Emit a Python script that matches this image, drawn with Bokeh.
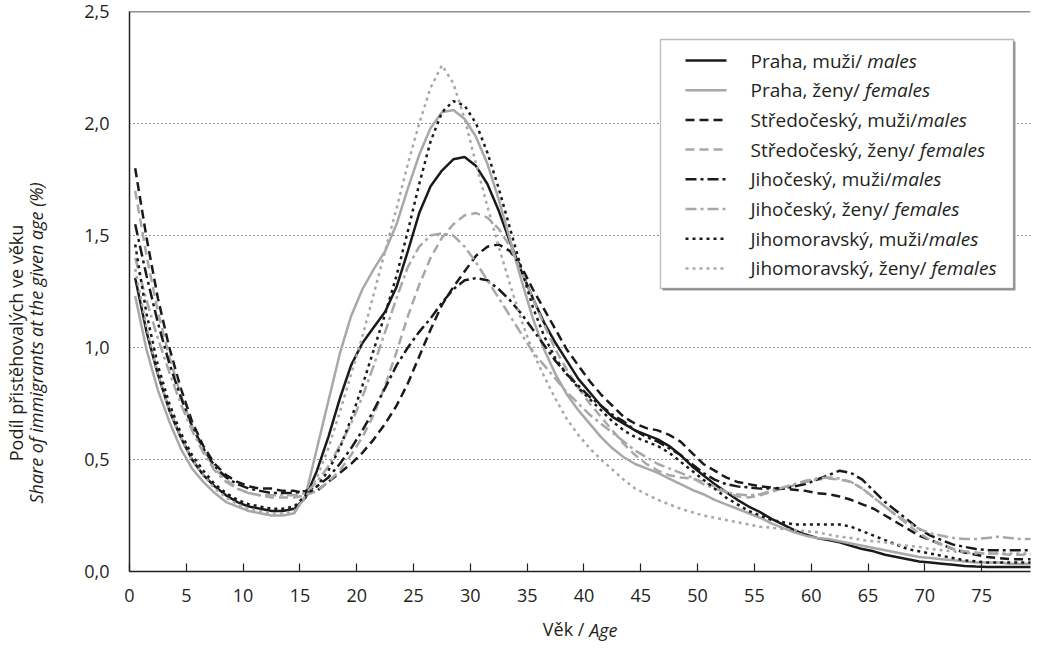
import os
import glob
import subprocess

from bokeh.plotting import figure
from bokeh.models import (Range1d, FixedTicker, CustomJSTickFormatter, Label,
                          BoxAnnotation, Arrow, Span, LinearAxis)
from bokeh.embed import file_html
from bokeh.resources import INLINE

# ---------------- data (share of immigrants at given age, %) ----------------
ages = list(range(80))

praha_muzi = [
    1.31, 1.07, 0.88, 0.72, 0.60, 0.50, 0.43, 0.38, 0.34, 0.31, 0.29, 0.28, 0.27, 0.27, 0.28, 0.33,
    0.45, 0.60, 0.77, 0.92, 1.02, 1.09, 1.16, 1.27, 1.43, 1.60, 1.72, 1.79, 1.84, 1.85, 1.81, 1.73,
    1.61, 1.47, 1.34, 1.22, 1.11, 1.02, 0.94, 0.86, 0.80, 0.74, 0.69, 0.66, 0.63, 0.61, 0.59, 0.56,
    0.52, 0.47, 0.43, 0.39, 0.355, 0.32, 0.29, 0.265, 0.235, 0.21, 0.185, 0.165, 0.15, 0.14, 0.13, 0.115,
    0.10, 0.09, 0.075, 0.065, 0.055, 0.045, 0.04, 0.035, 0.03, 0.025, 0.022, 0.02, 0.02, 0.02, 0.02, 0.02,
]
praha_zeny = [
    1.23, 0.99, 0.81, 0.67, 0.55, 0.46, 0.40, 0.35, 0.31, 0.29, 0.27, 0.26, 0.25, 0.25, 0.26, 0.34,
    0.55, 0.76, 0.97, 1.14, 1.26, 1.35, 1.43, 1.55, 1.71, 1.86, 1.98, 2.05, 2.06, 2.02, 1.94, 1.82,
    1.66, 1.48, 1.30, 1.13, 0.99, 0.88, 0.79, 0.72, 0.66, 0.60, 0.55, 0.51, 0.48, 0.46, 0.44, 0.415,
    0.39, 0.365, 0.345, 0.32, 0.30, 0.28, 0.26, 0.24, 0.215, 0.195, 0.175, 0.16, 0.15, 0.145, 0.135, 0.125,
    0.115, 0.105, 0.095, 0.085, 0.075, 0.065, 0.06, 0.055, 0.05, 0.045, 0.04, 0.04, 0.04, 0.035, 0.035, 0.035,
]
stredocesky_muzi = [
    1.80, 1.49, 1.22, 1.00, 0.82, 0.67, 0.56, 0.48, 0.43, 0.40, 0.38, 0.37, 0.37, 0.36, 0.36, 0.35,
    0.36, 0.40, 0.44, 0.48, 0.53, 0.59, 0.66, 0.74, 0.84, 0.96, 1.08, 1.19, 1.27, 1.34, 1.41, 1.45,
    1.46, 1.43, 1.36, 1.26, 1.17, 1.08, 0.99, 0.92, 0.85, 0.79, 0.74, 0.69, 0.66, 0.64, 0.63, 0.61,
    0.58, 0.53, 0.48, 0.45, 0.42, 0.40, 0.39, 0.38, 0.375, 0.37, 0.365, 0.36, 0.35, 0.345, 0.335, 0.32,
    0.30, 0.28, 0.25, 0.22, 0.19, 0.16, 0.14, 0.12, 0.10, 0.085, 0.075, 0.065, 0.06, 0.055, 0.055, 0.055,
]
stredocesky_zeny = [
    1.70, 1.41, 1.16, 0.96, 0.79, 0.65, 0.54, 0.46, 0.41, 0.37, 0.35, 0.34, 0.33, 0.33, 0.33, 0.34,
    0.36, 0.40, 0.45, 0.52, 0.60, 0.70, 0.83, 0.98, 1.14, 1.28, 1.40, 1.49, 1.55, 1.59, 1.60, 1.58,
    1.53, 1.45, 1.34, 1.22, 1.10, 0.99, 0.90, 0.82, 0.75, 0.69, 0.63, 0.57, 0.52, 0.48, 0.45, 0.43,
    0.42, 0.415, 0.40, 0.38, 0.355, 0.335, 0.33, 0.34, 0.355, 0.37, 0.385, 0.40, 0.41, 0.415, 0.41, 0.40,
    0.37, 0.33, 0.29, 0.25, 0.21, 0.17, 0.14, 0.12, 0.10, 0.09, 0.085, 0.08, 0.08, 0.075, 0.075, 0.075,
]
jihocesky_muzi = [
    1.55, 1.32, 1.11, 0.93, 0.78, 0.65, 0.55, 0.47, 0.42, 0.39, 0.37, 0.36, 0.35, 0.35, 0.35, 0.36,
    0.38, 0.42, 0.48, 0.55, 0.63, 0.72, 0.82, 0.92, 1.00, 1.07, 1.13, 1.20, 1.26, 1.30, 1.31, 1.30,
    1.26, 1.21, 1.15, 1.08, 1.01, 0.94, 0.88, 0.83, 0.78, 0.74, 0.70, 0.67, 0.63, 0.60, 0.58, 0.55,
    0.52, 0.48, 0.44, 0.41, 0.39, 0.38, 0.375, 0.37, 0.37, 0.37, 0.38, 0.39, 0.41, 0.43, 0.45, 0.44,
    0.41, 0.36, 0.31, 0.27, 0.23, 0.19, 0.16, 0.14, 0.12, 0.11, 0.10, 0.095, 0.095, 0.095, 0.095, 0.095,
]
jihocesky_zeny = [
    1.40, 1.21, 1.04, 0.89, 0.75, 0.63, 0.53, 0.45, 0.40, 0.37, 0.35, 0.34, 0.34, 0.34, 0.34, 0.35,
    0.40, 0.47, 0.56, 0.66, 0.78, 0.92, 1.07, 1.22, 1.36, 1.45, 1.50, 1.51, 1.50, 1.45, 1.38, 1.30,
    1.22, 1.14, 1.06, 0.98, 0.92, 0.86, 0.80, 0.75, 0.70, 0.66, 0.62, 0.58, 0.54, 0.51, 0.48, 0.46,
    0.44, 0.42, 0.39, 0.37, 0.355, 0.345, 0.34, 0.345, 0.36, 0.375, 0.39, 0.405, 0.415, 0.42, 0.415, 0.40,
    0.37, 0.33, 0.29, 0.25, 0.22, 0.19, 0.17, 0.16, 0.15, 0.145, 0.145, 0.15, 0.155, 0.15, 0.145, 0.145,
]
jihomoravsky_muzi = [
    1.46, 1.15, 0.92, 0.75, 0.62, 0.52, 0.45, 0.39, 0.35, 0.32, 0.30, 0.29, 0.28, 0.28, 0.29, 0.34,
    0.38, 0.45, 0.55, 0.68, 0.83, 0.99, 1.15, 1.32, 1.52, 1.73, 1.92, 2.05, 2.10, 2.08, 2.00, 1.87,
    1.71, 1.53, 1.35, 1.18, 1.05, 0.95, 0.88, 0.82, 0.77, 0.72, 0.67, 0.63, 0.60, 0.58, 0.56, 0.53,
    0.49, 0.45, 0.41, 0.37, 0.33, 0.30, 0.27, 0.25, 0.23, 0.22, 0.21, 0.21, 0.21, 0.21, 0.21, 0.20,
    0.18, 0.16, 0.14, 0.12, 0.10, 0.09, 0.08, 0.07, 0.06, 0.05, 0.045, 0.04, 0.04, 0.04, 0.04, 0.04,
]
jihomoravsky_zeny = [
    1.35, 1.09, 0.88, 0.72, 0.60, 0.50, 0.43, 0.37, 0.33, 0.30, 0.28, 0.27, 0.26, 0.26, 0.27, 0.33,
    0.42, 0.55, 0.71, 0.88, 1.05, 1.24, 1.43, 1.62, 1.82, 2.00, 2.16, 2.26, 2.18, 2.02, 1.82, 1.63,
    1.45, 1.28, 1.12, 0.98, 0.87, 0.77, 0.68, 0.61, 0.55, 0.50, 0.455, 0.41, 0.37, 0.345, 0.32, 0.30,
    0.28, 0.265, 0.25, 0.24, 0.23, 0.22, 0.21, 0.20, 0.195, 0.19, 0.185, 0.18, 0.175, 0.165, 0.155, 0.15,
    0.14, 0.135, 0.13, 0.12, 0.115, 0.11, 0.10, 0.095, 0.09, 0.085, 0.08, 0.08, 0.08, 0.08, 0.08, 0.08,
]

legend_upright = ["Praha, muži/ ", "Praha, ženy/ ", "Středočeský, muži/", "Středočeský, ženy/ ",
                  "Jihočeský, muži/", "Jihočeský, ženy/ ", "Jihomoravský, muži/", "Jihomoravský, ženy/ "]
legend_italic = ["males", "females", "males", "females", "males", "females", "males", "females"]

x_ticks = list(range(0, 80, 5))
y_ticks = [0.0, 0.5, 1.0, 1.5, 2.0, 2.5]

x_title_upright = "Věk / "
x_title_italic = "Age"
y_title_line1 = "Podíl přistěhovalých ve věku"
y_title_line2 = "Share of immigrants at the given age (%)"

# ---------------- styling ----------------
FONT = "Open Sans"
FS = 18
LFS = 19
TXT = "#231f20"
BLACK = "#1a1a1a"
GREY = "#a8a8a8"
DASH = "9 5"
DASHDOT = "11 4 3 4"
DOT = "3 4"
NBSP = "\u00a0"
Y_PAD = 22

series = [
    (praha_muzi, BLACK, "solid"),
    (praha_zeny, GREY, "solid"),
    (stredocesky_muzi, BLACK, DASH),
    (stredocesky_zeny, GREY, DASH),
    (jihocesky_muzi, BLACK, DASHDOT),
    (jihocesky_zeny, GREY, DASHDOT),
    (jihomoravsky_muzi, BLACK, DOT),
    (jihomoravsky_zeny, GREY, DOT),
]


# ---------------- text measuring (for mixed upright/italic texts) ----------------
def _font_file(italic):
    style = "Italic" if italic else "Regular"
    try:
        r = subprocess.run(["fc-match", "-f", "%{file}", f"{FONT}:style={style}"],
                           capture_output=True, text=True, timeout=10)
        path = r.stdout.strip()
        if path and os.path.exists(path):
            return path
    except Exception:
        pass
    files = glob.glob("/usr/share/fonts/**/OpenSans*", recursive=True)
    files = [f for f in files if ("Italic" in f) == italic]
    return files[0] if files else None


_cache = {}


def text_w(s, italic=False, size=FS):
    key = (italic, size)
    try:
        from PIL import ImageFont
        if key not in _cache:
            _cache[key] = ImageFont.truetype(_font_file(italic), size)
        return float(_cache[key].getlength(s))
    except Exception:
        return len(s) * size * 0.55


# ---------------- figure ----------------
p = figure(width=1039, height=648, output_backend="svg", toolbar_location=None,
           x_range=Range1d(0, 79.3), y_range=Range1d(0, 2.5),
           min_border_left=126, min_border_right=9, min_border_top=11, min_border_bottom=77)
p.outline_line_color = None
p.xgrid.visible = False
p.ygrid.ticker = FixedTicker(ticks=[0.5, 1.0, 1.5, 2.0])
p.ygrid.grid_line_color = TXT
p.ygrid.grid_line_dash = "1 3"
p.ygrid.grid_line_width = 1.2

xs = [a + 0.5 for a in ages]
for vals, col, dash in series:
    p.line(xs, vals, line_color=col, line_width=2.5, line_dash=dash)

# top border line of the plot area
p.add_layout(Span(location=2.5, dimension="width", line_color=TXT, line_width=1.5))

# ---- x axis + title ("Věk /" upright, "Age" italic, on one line) ----
W = text_w(x_title_upright) + text_w(x_title_italic, italic=True)
nb_u = text_w(NBSP)
nb_i = text_w(NBSP, italic=True)
n1 = max(0, int(round((W - text_w(x_title_upright.rstrip())) / nb_u)))
n2 = max(0, int(round((W - text_w(x_title_italic, italic=True)) / nb_i)))

xa = p.xaxis[0]
xa.ticker = FixedTicker(ticks=x_ticks)
xa.major_tick_in = 8
xa.major_tick_out = 0
xa.minor_tick_in = 0
xa.minor_tick_out = 0
xa.axis_line_color = TXT
xa.axis_line_width = 1.5
xa.major_tick_line_color = TXT
xa.major_tick_line_width = 1.2
xa.major_label_text_font = FONT
xa.major_label_text_font_size = f"{FS}px"
xa.major_label_text_color = TXT
xa.major_label_standoff = 17
xa.axis_label = x_title_upright.rstrip() + NBSP * n1
xa.axis_label_text_font = FONT
xa.axis_label_text_font_size = f"{FS}px"
xa.axis_label_text_font_style = "normal"
xa.axis_label_text_color = TXT
xa.axis_label_standoff = 12

xa2 = LinearAxis(ticker=FixedTicker(ticks=[]), axis_line_color=None,
                 major_tick_line_color=None, minor_tick_line_color=None,
                 major_label_text_font_size="0px", major_label_standoff=0,
                 axis_label=NBSP * n2 + x_title_italic,
                 axis_label_text_font=FONT, axis_label_text_font_size=f"{FS}px",
                 axis_label_text_font_style="italic", axis_label_text_color=TXT,
                 axis_label_standoff=-26)
p.add_layout(xa2, "below")

# ---- y axis + two-line title ----
ya = p.yaxis[0]
ya.ticker = FixedTicker(ticks=y_ticks)
ya.formatter = CustomJSTickFormatter(code="return tick.toFixed(1).replace('.', ',');")
ya.major_tick_in = 0
ya.major_tick_out = 0
ya.minor_tick_in = 0
ya.minor_tick_out = 0
ya.axis_line_color = TXT
ya.axis_line_width = 1.5
ya.major_label_text_font = FONT
ya.major_label_text_font_size = f"{FS}px"
ya.major_label_text_color = TXT
ya.major_label_standoff = 20
ya.axis_label = y_title_line2 + NBSP * Y_PAD
ya.axis_label_text_font = FONT
ya.axis_label_text_font_size = f"{FS}px"
ya.axis_label_text_font_style = "italic"
ya.axis_label_text_color = TXT
ya.axis_label_standoff = 33

ya2 = LinearAxis(ticker=FixedTicker(ticks=[]), axis_line_color=None,
                 major_tick_line_color=None, minor_tick_line_color=None,
                 major_label_text_font_size="0px", major_label_standoff=0,
                 axis_label=y_title_line1 + NBSP * Y_PAD,
                 axis_label_text_font=FONT, axis_label_text_font_size=f"{FS}px",
                 axis_label_text_font_style="normal", axis_label_text_color=TXT,
                 axis_label_standoff=-6)
p.add_layout(ya2, "left")


# ---------------- legend (manual, for mixed upright/italic labels) ----------------
def add_label(x, y, text, italic=False, size=LFS):
    p.add_layout(Label(x=x, y=y, x_units="screen", y_units="screen", text=text,
                       text_font=FONT, text_font_size=f"{size}px",
                       text_font_style="italic" if italic else "normal",
                       text_color=TXT, text_align="left", text_baseline="middle",
                       level="overlay"))


# soft shadow, then the box itself
p.add_layout(BoxAnnotation(left=533, right=886, bottom=281, top=530,
                           left_units="screen", right_units="screen",
                           bottom_units="screen", top_units="screen",
                           fill_color="#9a9a9a", fill_alpha=1.0,
                           line_color=None, level="overlay"))
p.add_layout(BoxAnnotation(left=531, right=884, bottom=283, top=532,
                           left_units="screen", right_units="screen",
                           bottom_units="screen", top_units="screen",
                           fill_color="white", fill_alpha=1.0,
                           line_color=TXT, line_width=1.3, level="overlay"))

row0 = 511
row_step = 29.7
for i, ((vals, col, dash), up, it) in enumerate(zip(series, legend_upright, legend_italic)):
    yy = row0 - i * row_step
    p.add_layout(Arrow(start=None, end=None, x_start=556, y_start=yy, x_end=597, y_end=yy,
                       start_units="screen", end_units="screen",
                       line_color=col, line_width=2.5, line_dash=dash, level="overlay"))
    add_label(621, yy, up.rstrip())
    add_label(621 + text_w(up, size=LFS), yy, it, italic=True)

open("out.html", "w").write(file_html(p, INLINE))
